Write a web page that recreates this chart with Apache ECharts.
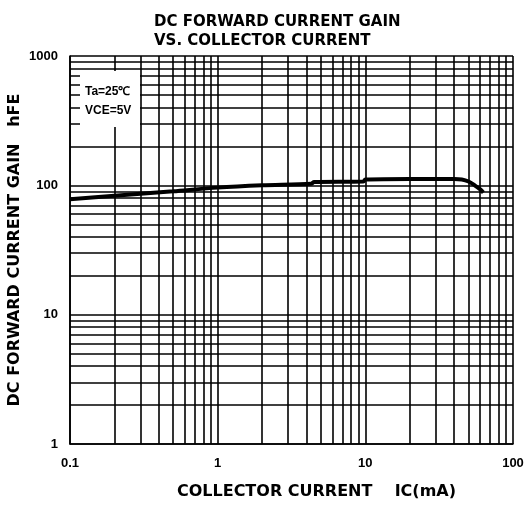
<!DOCTYPE html>
<html>
<head>
<meta charset="utf-8">
<script src="https://cdn.jsdelivr.net/npm/echarts@6/dist/echarts.min.js"></script>
<style>
html,body{margin:0;padding:0;background:#fff;}
#chart{width:529px;height:505px;}
</style>
</head>
<body>
<div id="chart"></div>
<script>
// Data
const icValues  = [0.1, 0.2, 0.5, 1, 2, 4.3, 4.5, 9.7, 10, 20, 40, 45, 50, 55, 60, 63];
const hfeValues = [78, 83, 90, 96, 100, 103, 106, 107, 111, 112, 112, 111, 107, 100, 93, 88];

// Tick / grid values
const xMajorTicks = [0.1, 1, 10, 100];
const yMajorTicks = [1, 10, 100, 1000];
const xMinorGrid = [0.2,0.3,0.4,0.5,0.6,0.7,0.8,0.9, 2,3,4,5,6,7,8,9, 20,30,40,50,60,70,80,90];
const yMinorGrid = [2,3,4,5,6,7,8,9, 20,30,40,50,60,70,80,90, 200,300,400,500,600,700,800,900];

const titleText = 'DC FORWARD CURRENT GAIN\nVS. COLLECTOR CURRENT';
const xName = 'COLLECTOR CURRENT    IC(mA)';
const yName = 'DC FORWARD CURRENT GAIN   hFE';
const noteLines = ['Ta=25\u2103', 'VCE=5V'];

const chart = echarts.init(document.getElementById('chart'), null, {renderer:'canvas'});

const gridStyle = {color:'#000', width:1.6, type:'solid'};
const markData = xMinorGrid.map(v => ({xAxis: v}))
  .concat(yMinorGrid.map(v => ({yAxis: v})));

const labelFont = {color:'#000', fontFamily:'Liberation Sans Narrow, Arial Narrow, sans-serif', fontWeight:'bold', fontSize:13};

chart.setOption({
  animation:false,
  backgroundColor:'#fff',
  title:{
    text:titleText, left:149, top:8,
    textStyle:{fontFamily:'DejaVu Sans', fontWeight:'bold', fontSize:15, lineHeight:19, color:'#000'}
  },
  grid:{left:70, top:56, width:443, height:388, containLabel:false, outerBoundsMode:'none'},
  xAxis:{
    type:'log', logBase:10, min:0.1, max:100,
    name:xName, nameLocation:'middle', nameGap:40, nameMoveOverlap:false,
    nameTextStyle:{fontFamily:'DejaVu Sans', fontWeight:'bold', fontSize:16, color:'#000', padding:[0,0,0,50]},
    axisLine:{show:true, lineStyle:{color:'#000', width:1.6}},
    axisTick:{show:false},
    axisLabel:Object.assign({margin:13, formatter:v => String(v)}, labelFont),
    splitLine:{show:true, lineStyle:gridStyle}
  },
  yAxis:{
    type:'log', logBase:10, min:1, max:1000,
    name:yName, nameLocation:'middle', nameGap:47, nameRotate:90, nameMoveOverlap:false,
    nameTextStyle:{fontFamily:'DejaVu Sans', fontWeight:'bold', fontSize:16, color:'#000'},
    axisLine:{show:true, lineStyle:{color:'#000', width:1.6}},
    axisTick:{show:false},
    axisLabel:Object.assign({margin:12, formatter:v => String(v)}, labelFont),
    splitLine:{show:true, lineStyle:gridStyle}
  },
  graphic:[
    {type:'rect', shape:{x:80, y:71, width:60, height:56}, style:{fill:'#fff'}, z:50},
    {type:'text', x:85, y:92, style:{text:noteLines[0], fill:'#000', font:'bold 12px "Liberation Sans Narrow", sans-serif', textVerticalAlign:'middle'}, z:51},
    {type:'text', x:85, y:111, style:{text:noteLines[1], fill:'#000', font:'bold 12px "Liberation Sans Narrow", sans-serif', textVerticalAlign:'middle'}, z:51}
  ],
  series:[
    {
      type:'line', data:[], silent:true,
      markLine:{silent:true, symbol:['none','none'], label:{show:false}, lineStyle:gridStyle, data:markData, animation:false}
    },
    {
      type:'line', showSymbol:false, smooth:0.3, z:70,
      data: icValues.map((x,i) => [x, hfeValues[i]]),
      lineStyle:{color:'#000', width:4}
    }
  ]
});
</script>
</body>
</html>
